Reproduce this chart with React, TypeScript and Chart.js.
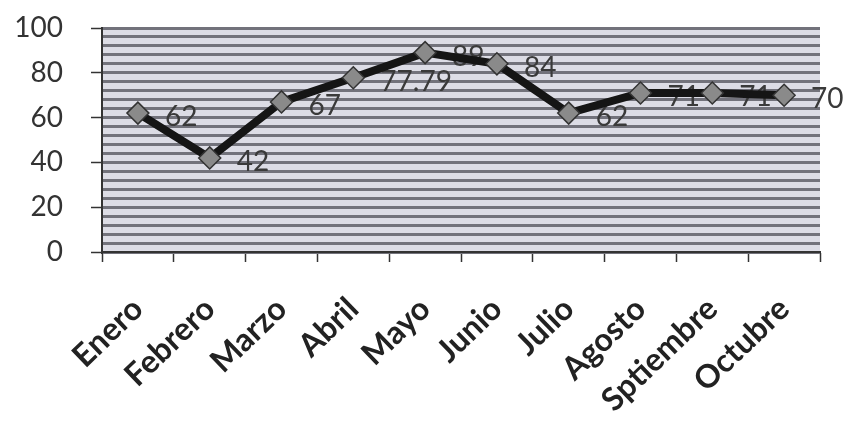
import React, { useEffect, useRef } from "react";
import { Chart, registerables } from "chart.js";

Chart.register(...registerables);

const categories = ["Enero", "Febrero", "Marzo", "Abril", "Mayo", "Junio", "Julio", "Agosto", "Sptiembre", "Octubre"];
const values = [62, 42, 67, 77.79, 89, 84, 62, 71, 71, 70];
const valueLabels = ["62", "42", "67", "77.79", "89", "84", "62", "71", "71", "70"];
const yTickLabels = [0, 20, 40, 60, 80, 100];

const plotBg = {
  id: "plotBg",
  beforeDraw(chart: any) {
    const { ctx, chartArea } = chart;
    ctx.save();
    ctx.fillStyle = "#dcdce5";
    ctx.fillRect(chartArea.left, chartArea.top, chartArea.right - chartArea.left, chartArea.bottom - chartArea.top);
    ctx.restore();
  },
};

const pointLabels = {
  id: "pointLabels",
  beforeDatasetsDraw(chart: any) {
    const { ctx } = chart;
    const meta = chart.getDatasetMeta(0);
    ctx.save();
    ctx.font = "28px Lato";
    ctx.fillStyle = "#3a3a3a";
    ctx.textAlign = "left";
    ctx.textBaseline = "middle";
    meta.data.forEach((pt: any, i: number) => {
      ctx.fillText(valueLabels[i], pt.x + 27, pt.y + 4);
    });
    ctx.restore();
  },
};

export default function App() {
  const ref = useRef<HTMLCanvasElement | null>(null);
  useEffect(() => {
    if (!ref.current) return;
    const chart = new Chart(ref.current, {
      type: "line",
      data: {
        labels: categories,
        datasets: [
          {
            data: values,
            borderColor: "#151515",
            borderWidth: 8,
            pointStyle: "rectRot",
            pointRadius: 11,
            pointBackgroundColor: "#8a8a8a",
            pointBorderColor: "#333333",
            pointBorderWidth: 1.5,
            tension: 0,
          },
        ],
      },
      options: {
        animation: false,
        responsive: true,
        maintainAspectRatio: false,
        layout: { padding: { top: 28, right: 25, left: 0, bottom: 0 } },
        plugins: { legend: { display: false }, tooltip: { enabled: false } },
        scales: {
          x: {
            offset: true,
            grid: {
              offset: true,
              drawOnChartArea: false,
              drawTicks: true,
              tickLength: 10,
              tickColor: "#333333",
              tickWidth: 1.5,
            },
            border: { color: "#333333", width: 2 },
            ticks: {
              color: "#222222",
              font: { family: "Lato", size: 32, weight: "bold" },
              minRotation: 44,
              maxRotation: 44,
              padding: 28,
              autoSkip: false,
            },
            afterFit(scale: any) {
              scale.height = 178;
              scale.paddingLeft = 0;
              scale.paddingRight = 0;
            },
          },
          y: {
            min: 0,
            max: 100,
            ticks: {
              stepSize: 4,
              padding: 28,
              color: "#333333",
              font: { family: "Lato", size: 28 },
              autoSkip: false,
              callback: (v: any) => (yTickLabels.includes(Number(v)) ? String(v) : ""),
            },
            grid: {
              color: "#72727b",
              lineWidth: 3,
              tickLength: 11,
              tickColor: (ctx: any) => (ctx.tick && yTickLabels.includes(ctx.tick.value) ? "#333333" : "rgba(0,0,0,0)"),
              tickWidth: 1.5,
            },
            border: { color: "#333333", width: 2 },
            afterFit(scale: any) {
              scale.width = 102;
              scale.paddingTop = 0;
              scale.paddingBottom = 0;
            },
          },
        },
      },
      plugins: [plotBg, pointLabels],
    });
    return () => chart.destroy();
  }, []);
  return (
    <div style={{ position: "absolute", left: 0, top: 0, width: 845, height: 430, background: "#fff" }}>
      <canvas ref={ref} />
    </div>
  );
}
